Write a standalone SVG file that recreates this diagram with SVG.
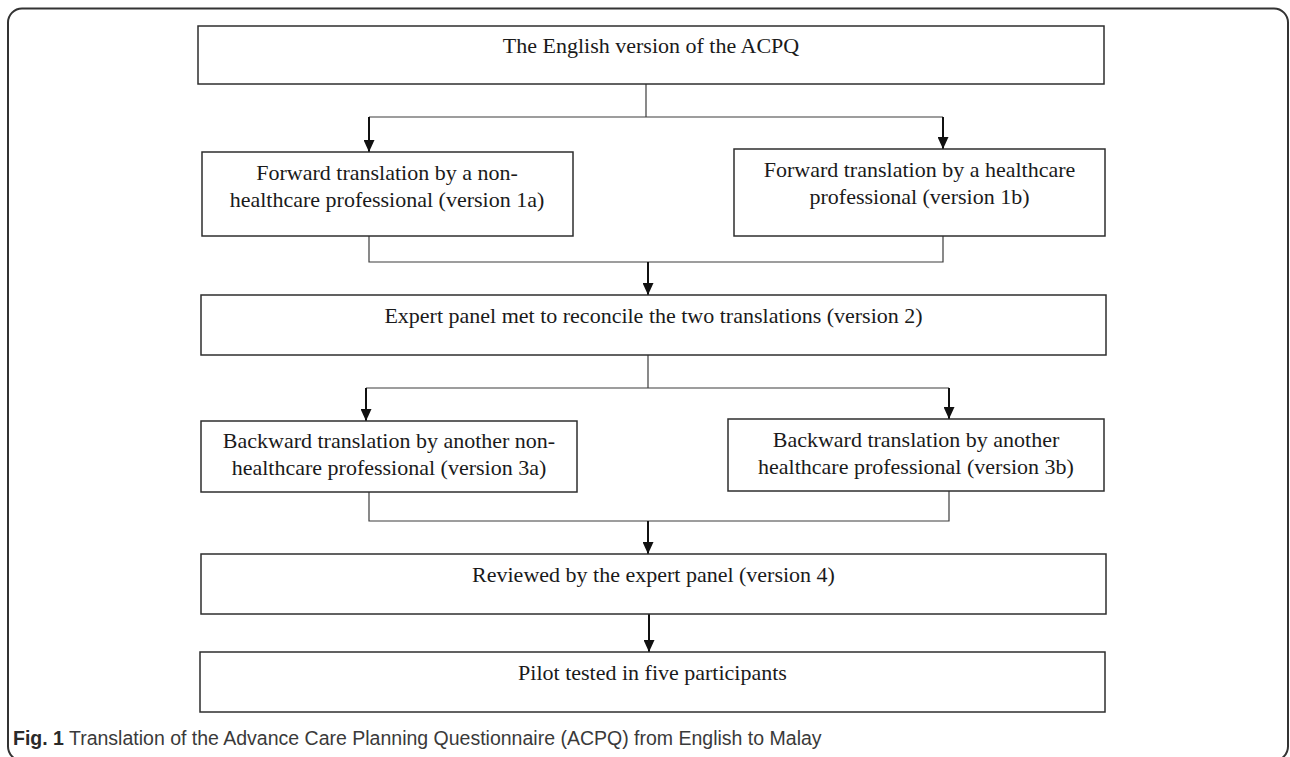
<svg xmlns="http://www.w3.org/2000/svg" width="1290" height="757" viewBox="0 0 1290 757">
<style>
  .frame { fill: #ffffff; stroke: #333333; stroke-width: 2; }
  .box { fill: #ffffff; stroke: #2e2e2e; stroke-width: 1.5; }
  .lbl { font-family: "Liberation Serif", "Times New Roman", serif; font-size: 22px; fill: #1a1a1a; text-anchor: middle; }
  .thin { fill: none; stroke: #3c3c3c; stroke-width: 1.2; }
  .arr { fill: none; stroke: #111111; stroke-width: 2; marker-end: url(#ah); }
  .cap { font-family: "Liberation Sans", Arial, sans-serif; font-size: 19.5px; fill: #3a3a3a; }
  .capb { font-weight: bold; fill: #2a2a2a; }
</style>
<defs>
  <marker id="ah" viewBox="0 0 12 11" refX="12" refY="5.5" markerWidth="12" markerHeight="11" markerUnits="userSpaceOnUse" orient="auto">
    <path d="M0,0 L12,5.5 L0,11 z" fill="#111111"/>
  </marker>
</defs>
<rect width="1290" height="757" fill="#ffffff"/>
<rect class="frame" x="8" y="8.5" width="1280" height="752" rx="14" ry="14"/>

<g id="connectors">
  <path class="thin" d="M646,84 V117 M369,117 H943"/>
  <path class="thin" d="M369,236 V262 H943 V236"/>
  <path class="thin" d="M648,355 V388 M366,388 H949"/>
  <path class="thin" d="M369,492 V521 H949 V491"/>
  <path class="arr" d="M369,117 V152"/>
  <path class="arr" d="M943,117 V149"/>
  <path class="arr" d="M648,262 V295"/>
  <path class="arr" d="M366,388 V421"/>
  <path class="arr" d="M949,388 V419"/>
  <path class="arr" d="M648,521 V554"/>
  <path class="arr" d="M649,614 V652"/>
</g>

<g id="node-english">
  <rect class="box" x="198" y="26" width="906" height="58"/>
  <text class="lbl" x="651" y="53">The English version of the ACPQ</text>
</g>
<g id="node-forward-1a">
  <rect class="box" x="202" y="152" width="371" height="84"/>
  <text class="lbl" x="387" y="180">Forward translation by a non-</text>
  <text class="lbl" x="387" y="207">healthcare professional (version 1a)</text>
</g>
<g id="node-forward-1b">
  <rect class="box" x="734" y="149" width="371" height="87"/>
  <text class="lbl" x="919.5" y="177">Forward translation by a healthcare</text>
  <text class="lbl" x="919.5" y="204">professional (version 1b)</text>
</g>
<g id="node-expert-2">
  <rect class="box" x="201" y="295" width="905" height="60"/>
  <text class="lbl" x="653.5" y="323">Expert panel met to reconcile the two translations (version 2)</text>
</g>
<g id="node-backward-3a">
  <rect class="box" x="201" y="421" width="376" height="71"/>
  <text class="lbl" x="389" y="448">Backward translation by another non-</text>
  <text class="lbl" x="389" y="475">healthcare professional (version 3a)</text>
</g>
<g id="node-backward-3b">
  <rect class="box" x="728" y="419" width="376" height="72"/>
  <text class="lbl" x="916" y="447">Backward translation by another</text>
  <text class="lbl" x="916" y="474">healthcare professional (version 3b)</text>
</g>
<g id="node-review-4">
  <rect class="box" x="201" y="554" width="905" height="60"/>
  <text class="lbl" x="653.5" y="582">Reviewed by the expert panel (version 4)</text>
</g>
<g id="node-pilot">
  <rect class="box" x="200" y="652" width="905" height="60"/>
  <text class="lbl" x="652.5" y="680">Pilot tested in five participants</text>
</g>

<text class="cap" x="13" y="745"><tspan class="capb">Fig. 1</tspan> Translation of the Advance Care Planning Questionnaire (ACPQ) from English to Malay</text>
</svg>
